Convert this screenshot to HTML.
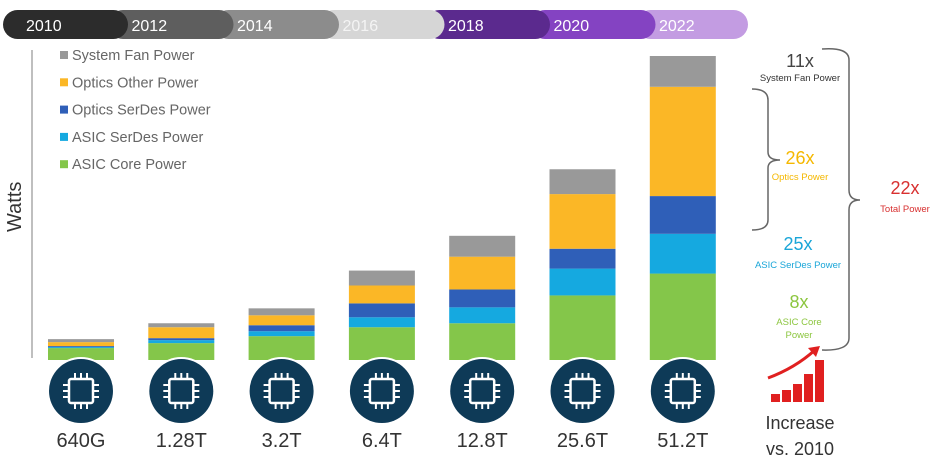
<!DOCTYPE html>
<html><head><meta charset="utf-8"><style>
body{margin:0;background:#fff;width:935px;height:464px;overflow:hidden;font-family:"Liberation Sans",sans-serif}
</style></head><body>
<svg id="c" width="935" height="464" viewBox="0 0 935 464" xmlns="http://www.w3.org/2000/svg" font-family="Liberation Sans, sans-serif"></svg>
<script>
const categories=["640G","1.28T","3.2T","6.4T","12.8T","25.6T","51.2T"];
const years=["2010","2012","2014","2016","2018","2020","2022"];
const asicCore=[12,17,24,33,37,65,87];
const asicSerdes=[1,3,5,10,16,27,40];
const opticsSerdes=[1,2,6,14,18,20,38];
const opticsOther=[4,11,10,18,33,55,110];
const fanPower=[3,4,7,15,21,25,31];
const seriesNames=["ASIC Core Power","ASIC SerDes Power","Optics SerDes Power","Optics Other Power","System Fan Power"];
const seriesColors=["#84c64a","#15a9e0","#2f5fb8","#fbb726","#999999"];
const series=[asicCore,asicSerdes,opticsSerdes,opticsOther,fanPower];

const svg=document.getElementById('c');
const NS="http://www.w3.org/2000/svg";
function mk(t,a,txt){const e=document.createElementNS(NS,t);for(const k in a)e.setAttribute(k,a[k]);if(txt!==undefined)e.textContent=txt;svg.appendChild(e);return e;}
const y0=360, yMax=306, yTop=56;
const yScale=v=>(y0-yTop)*v/yMax;
const xCenter=i=>81+i*100.3;
const bw=66;

// timeline pills
const pillCols=["#2c2c2c","#5e5e5e","#8c8c8c","#d6d6d6","#5b2a8e","#8443c2","#c39ce2"];
const txtCols=["#fff","#fff","#fff","#f4f4f4","#fff","#fff","#fff"];
for(let i=years.length-1;i>=0;i--){
  const x=3+i*105.5;
  const r=mk('rect',{x:x,y:10,width:i==6?112:125,height:29,rx:14.5,fill:pillCols[i]});
  
  
}
years.forEach((yr,i)=>{
  const t=mk('text',{x:26+i*105.5,y:31,'font-size':16,fill:txtCols[i]},yr);
  
  
});

// axis
const ax=mk('line',{x1:32,y1:50,x2:32,y2:358,stroke:'#aaa','stroke-width':1.5});


const yt=mk('text',{x:0,y:0,'font-size':20,fill:'#333',transform:'translate(21,232) rotate(-90)'},'Watts');



// legend
const legOrder=[4,3,2,1,0];
legOrder.forEach((s,k)=>{
  const y=56+k*27.3;
  const sq=mk('rect',{x:60,y:y-5,width:8,height:8,fill:seriesColors[s]});
  
  
  const t=mk('text',{x:72,y:y+4,'font-size':14.5,fill:'#666'},seriesNames[s]);
  
  
});

// bars
categories.forEach((c,i)=>{
  let acc=0;
  series.forEach((arr,s)=>{
    const h=yScale(arr[i]);
    const yb=y0-yScale(acc);
    const r=mk('rect',{x:xCenter(i)-bw/2,y:yb-h,width:bw,height:h,fill:seriesColors[s]});
    
    
    acc+=arr[i];
  });
  const cx=xCenter(i), cy=391;
  const ci=mk('circle',{cx:cx,cy:cy,r:34,fill:'#fff'});
  
  
  const cc=mk('circle',{cx:cx,cy:cy,r:32,fill:'#0e3a57'});
  
  
  const sq=mk('rect',{x:cx-12,y:cy-12,width:24,height:24,fill:'none',stroke:'#fff','stroke-width':2.5,rx:2});
  
  
  for(let p=-1;p<=1;p++){
    const o=p*6;
    [[cx+o,cy-12,cx+o,cy-18],[cx+o,cy+12,cx+o,cy+18],[cx-12,cy+o,cx-18,cy+o],[cx+12,cy+o,cx+18,cy+o]].forEach(l=>{
      const pl=mk('line',{x1:l[0],y1:l[1],x2:l[2],y2:l[3],stroke:'#fff','stroke-width':2});
      
      
    });
  }
  const lb=mk('text',{x:cx,y:447,'font-size':20,fill:'#333','text-anchor':'middle'},c);
  
  
});

// braces
const b1=mk('path',{d:'M822,49 Q849,47 849,60 L849,190 Q849,200 860,200 Q849,200 849,210 L849,338 Q849,351 822,350',fill:'none',stroke:'#666','stroke-width':1.5});


const b2=mk('path',{d:'M752,89 Q768,89 768,100 L768,152 Q768,160 780,160 Q768,160 768,168 L768,220 Q768,230 752,230',fill:'none',stroke:'#666','stroke-width':1.5});



const ann=[
 [800,67,18,'#444','11x','fan-multiplier'],[800,81,9.5,'#333','System Fan Power','fan-caption'],
 [800,164,18,'#f5b800','26x','optics-multiplier'],[800,180,9.5,'#f5b800','Optics Power','optics-caption'],
 [905,194,18,'#d83030','22x','total-multiplier'],[905,212,9.5,'#d83030','Total Power','total-caption'],
 [798,250,18,'#1aa6d8','25x','serdes-multiplier'],[798,268,9.5,'#1aa6d8','ASIC SerDes Power','serdes-caption'],
 [799,308,18,'#8cc63f','8x','core-multiplier'],[799,325,9.5,'#8cc63f','ASIC Core','core-caption'],[799,338,9.5,'#8cc63f','Power','core-caption-2'],
 [800,429,18,'#333','Increase','increase-label'],[800,455,18,'#333','vs. 2010','vs-2010-label']
];
ann.forEach(a=>{
  const t=mk('text',{x:a[0],y:a[1],'font-size':a[2],fill:a[3],'text-anchor':'middle'},a[4]);
  
  
});

// growth icon
const gh=[8,12,18,28,42];
gh.forEach((h,k)=>{
  const r=mk('rect',{x:771+k*11,y:402-h,width:9,height:h,fill:'#e02020'});
  
  
});
const ga=mk('path',{d:'M768,378 Q795,368 815,350',fill:'none',stroke:'#e02020','stroke-width':3});


const gt=mk('path',{d:'M808,348 L820,346 L816,357 Z',fill:'#e02020'});


</script>
</body></html>
